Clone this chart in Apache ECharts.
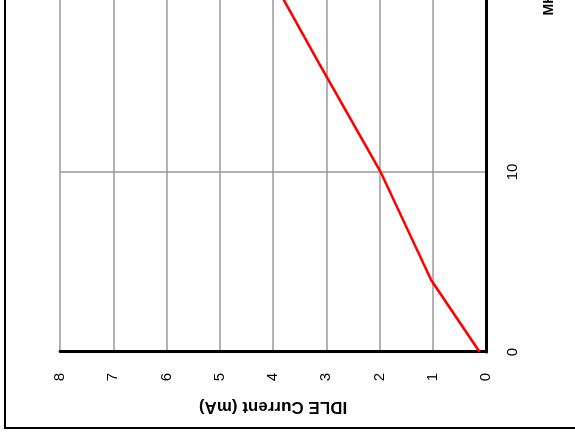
<!DOCTYPE html>
<html>
<head>
<meta charset="utf-8">
<script src="https://cdn.jsdelivr.net/npm/echarts@6/dist/echarts.min.js"></script>
<style>
  html, body {
    margin: 0;
    padding: 0;
    width: 575px;
    height: 440px;
    overflow: hidden;
    background: #fff;
  }
  /* chart is drawn upright, then turned a quarter turn to the left */
  #chart {
    position: absolute;
    left: 4px;
    top: 429px;
    width: 820px;
    height: 600px;
    transform-origin: 0 0;
    transform: rotate(-90deg);
  }
</style>
</head>
<body>
<div id="chart"></div>
<script>
  // frequency (MHz) and idle current (mA)
  const freqMHz = [0, 4, 10, 16, 20];
  const idleCurrent = [0.12, 1.03, 1.98, 3.13, 3.88];

  // axis ranges
  const freqRange = [0, 40, 10];
  const currentRange = [0, 8, 1];

  const FONT = "Liberation Sans, Arial, sans-serif";

  const chart = echarts.init(document.getElementById("chart"), null, {
    renderer: "canvas",
  });

  chart.setOption({
    animation: false,
    backgroundColor: "#fff",
    grid: {
      left: 77,
      right: 23,
      top: 56,
      bottom: 118,
    },
    graphic: [
      {
        type: "rect",
        shape: { x: 1, y: 1, width: 818, height: 598 },
        style: { fill: null, stroke: "#000", lineWidth: 2 },
        silent: true,
      },
    ],
    xAxis: {
      type: "value",
      min: freqRange[0],
      max: freqRange[1],
      interval: freqRange[2],
      name: "MHz",
      nameLocation: "middle",
      nameGap: 56,
      nameTextStyle: {
        fontFamily: FONT,
        fontSize: 14,
        fontWeight: "bold",
        color: "#000",
        padding: [0, 18, 0, 0],
      },
      axisLine: { lineStyle: { color: "#000", width: 3 } },
      axisTick: { show: false },
      axisLabel: {
        fontFamily: FONT,
        fontSize: 15,
        color: "#000",
        margin: 19,
      },
      splitLine: {
        show: true,
        lineStyle: { color: "#999", width: 1.5 },
      },
    },
    yAxis: {
      type: "value",
      min: currentRange[0],
      max: currentRange[1],
      interval: currentRange[2],
      name: "IDLE Current (mA)",
      nameLocation: "middle",
      nameGap: 46,
      nameTextStyle: {
        fontFamily: FONT,
        fontSize: 17,
        fontWeight: "bold",
        color: "#000",
      },
      axisLine: { show: true, lineStyle: { color: "#000", width: 3 } },
      axisTick: { show: false },
      axisLabel: {
        fontFamily: FONT,
        fontSize: 15,
        color: "#000",
        margin: 21,
      },
      splitLine: {
        show: true,
        lineStyle: { color: "#999", width: 1.5 },
      },
    },
    series: [
      {
        type: "line",
        data: freqMHz.map((f, i) => [f, idleCurrent[i]]),
        symbol: "none",
        lineStyle: { color: "#ff0000", width: 2.5 },
        z: 5,
      },
    ],
  });
</script>
</body>
</html>
